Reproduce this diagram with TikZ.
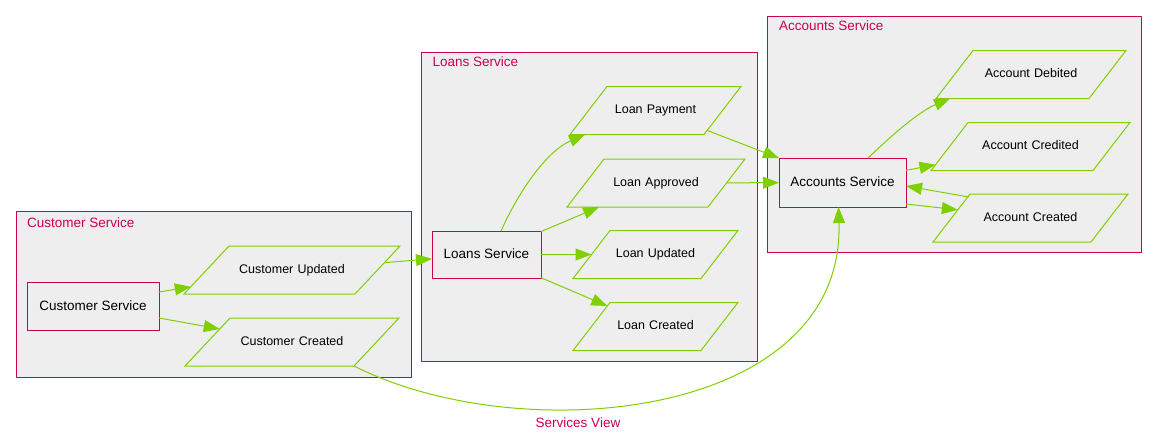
\documentclass[tikz,border=0pt]{standalone}
\usepackage{fontspec}
\setmainfont{Liberation Sans}
\usetikzlibrary{shapes.geometric,arrows.meta}
\definecolor{crim}{RGB}{204,0,82}
\definecolor{grn}{RGB}{128,208,0}
\definecolor{bgc}{RGB}{238,238,238}
\begin{document}
\begin{tikzpicture}[x=1pt,y=-1pt,
  clusterbox/.style={rectangle,draw=crim,fill=bgc,line width=1pt,inner sep=0pt,outer sep=0pt},
  clusterlabel/.style={anchor=base west,inner sep=0pt,text=crim,font=\fontsize{13.5}{16}\selectfont},
  svcbox/.style={rectangle,draw=crim,fill=bgc,line width=1pt,inner sep=0pt,outer sep=0pt,
    text height=10pt,text depth=2pt,font=\fontsize{13.5}{16}\selectfont},
  evtbox/.style={trapezium,draw=grn,fill=bgc,line width=1pt,outer sep=0pt,
    inner xsep=0pt,inner ysep=17.7pt,text height=9.6pt,text depth=3pt,align=center,
    font=\fontsize{12.5}{15}\selectfont},
  evtA/.style={evtbox,trapezium left angle=46.85,trapezium right angle=133.15},
  evtB/.style={evtbox,trapezium left angle=52.4,trapezium right angle=127.6},
  flowline/.style={draw=grn,line width=1pt,-{Triangle[length=16pt,width=12pt]}}
]
\useasboundingbox (0,0) rectangle (1157,442);
% clusters
\node[clusterbox,minimum width=395pt,minimum height=166pt] (custcl) at (213.5,294) {};
\node[clusterbox,minimum width=336pt,minimum height=309pt] (loancl) at (589,206.5) {};
\node[clusterbox,minimum width=374pt,minimum height=236pt] (acctcl) at (954,134) {};
\node[clusterlabel] (custlbl) at (27,227.3) {Customer Service};
\node[clusterlabel] (loanlbl) at (432.3,66.7) {Loans Service};
\node[clusterlabel] (acctlbl) at (779,30.7) {Accounts Service};
% services
\node[svcbox,minimum width=132pt,minimum height=48pt] (cs) at (93,306) {Customer Service};
\node[svcbox,minimum width=109pt,minimum height=47pt] (ls) at (486.5,254.5) {Loans Service};
\node[svcbox,minimum width=127pt,minimum height=49pt] (as) at (842.5,182.5) {Accounts Service};
% events
\node[evtA,text width=126pt] (cu) at (292,270) {Customer Updated};
\node[evtA,text width=124pt] (cc) at (292,342) {Customer Created};
\node[evtB,text width=97pt] (lp) at (655.5,110.5) {Loan Payment};
\node[evtB,text width=104pt] (la) at (656,183) {Loan Approved};
\node[evtB,text width=91pt] (lu) at (655.5,254.5) {Loan Updated};
\node[evtB,text width=91pt] (lc) at (655.5,326.5) {Loan Created};
\node[evtB,text width=116pt] (ad) at (1031,74.5) {Account Debited};
\node[evtB,text width=125pt] (acr) at (1030.5,146.5) {Account Credited};
\node[evtB,text width=121pt] (acd) at (1030.5,218) {Account Created};
% title
\node[anchor=base,inner sep=0pt,text=crim,font=\fontsize{13.5}{16}\selectfont] (title) at (578,427.3) {Services View};
% connectors
\draw[flowline] ([yshift=14pt]cs.east) -- (cu);
\draw[flowline] ([yshift=-12pt]cs.east) -- (cc);
\draw[flowline] (cu) -- (ls);
\draw[flowline] (cc.bottom right corner) .. controls (520,450) and (845,420) .. ([xshift=-4pt]as.south);
\draw[flowline] ([xshift=14.5pt]ls.north) .. controls (517,195) and (545,152) .. ([xshift=15pt]lp.bottom left corner);
\draw[flowline] (ls) -- (la);
\draw[flowline] (ls) -- (lu);
\draw[flowline] (ls) -- (lc);
\draw[flowline] (lp) -- (as);
\draw[flowline] (la) -- (as);
\draw[flowline] ([xshift=25.5pt]as.north) .. controls (890,137) and (918,112) .. ([xshift=14pt]ad.bottom left corner);
\draw[flowline] (as) -- (acr);
\draw[flowline] ([yshift=-21.5pt]as.east) -- (acd);
\draw[flowline] ([xshift=-1pt,yshift=-3pt]acd.top left corner) -- ([yshift=-3.5pt]as.east);
\end{tikzpicture}
\end{document}
